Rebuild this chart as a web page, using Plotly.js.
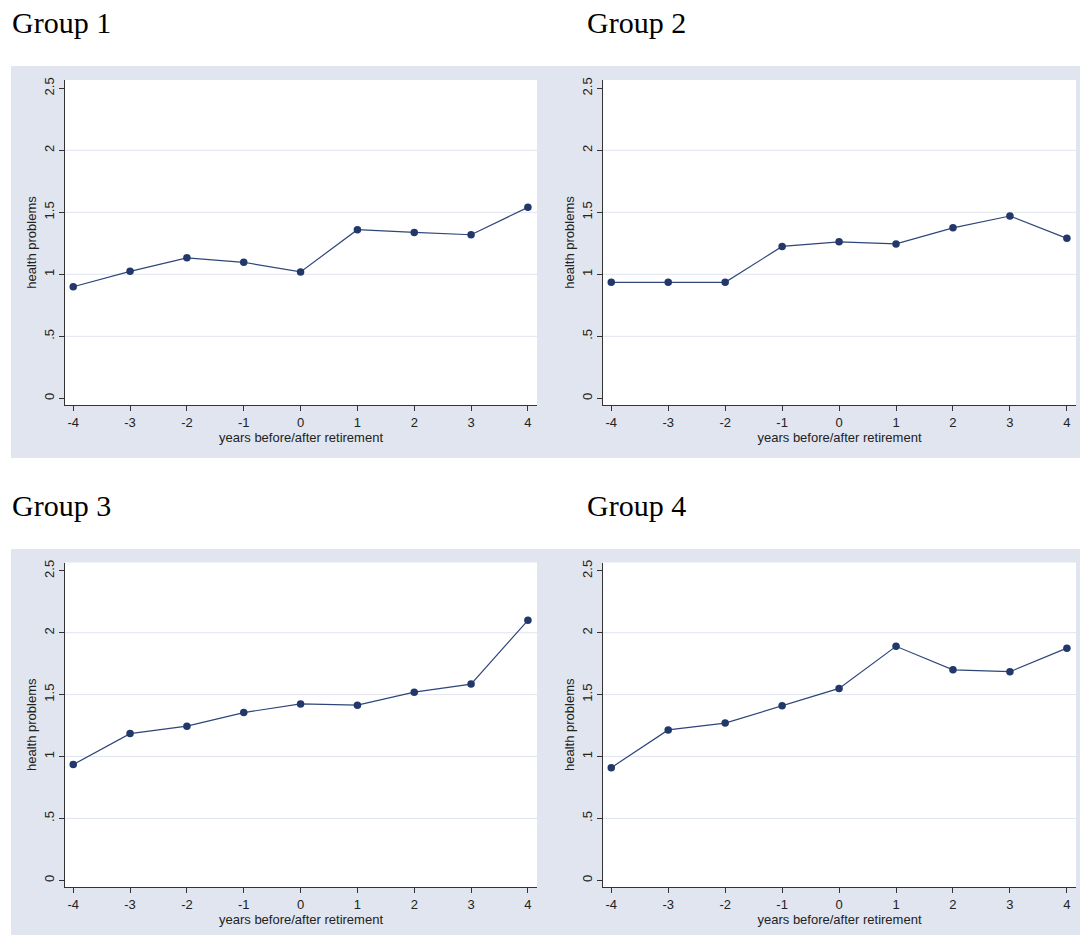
<!DOCTYPE html>
<html>
<head>
<meta charset="utf-8">
<script src="https://cdn.plot.ly/plotly-3.0.1.min.js"></script>
<style>html,body{margin:0;padding:0;background:#fff;}#chart{width:1080px;height:935px;}</style>
</head>
<body>
<div id="chart"></div>
<script>
// ---- data ----
const years = [-4, -3, -2, -1, 0, 1, 2, 3, 4];
const groupTitles = ["Group 1", "Group 2", "Group 3", "Group 4"];
const group1 = [0.90, 1.024, 1.133, 1.097, 1.019, 1.36, 1.338, 1.319, 1.54];
const group2 = [0.935, 0.935, 0.935, 1.225, 1.262, 1.245, 1.375, 1.47, 1.29];
const group3 = [0.935, 1.185, 1.245, 1.355, 1.425, 1.415, 1.52, 1.585, 2.10];
const group4 = [0.91, 1.215, 1.27, 1.41, 1.55, 1.89, 1.70, 1.685, 1.875];
const yTickVals = [0, 0.5, 1, 1.5, 2, 2.5];
const yTickText = ["0", ".5", "1", "1.5", "2", "2.5"];
const gridVals = [0.5, 1, 1.5, 2];
const xTitle = "years before/after retirement";
const yTitle = "health problems";

// ---- styling / layout ----
const W = 1080, H = 935;
const seriesList = [group1, group2, group3, group4];
const navy = "#22386a";
const lineCol = "#2f4678";
const bgCol = "#e0e5ef";
const gridCol = "#e0e4ee";
const axisCol = "#333333";
const sans = "Liberation Sans, Arial, sans-serif";
const serif = "Liberation Serif, Times New Roman, serif";
const fs = 13;

// pixel boxes of plot areas [x0, x1, yTop, yBottom]
const boxes = [
  [65, 537, 80, 405],
  [603, 1076, 80, 405],
  [65, 537, 562.5, 887],
  [603, 1076, 562.5, 887]
];
const titlePos = [[10, 22], [585, 22], [10, 505], [585, 505]];

const traces = [];
const layout = {
  width: W, height: H,
  margin: {l: 0, r: 0, t: 0, b: 0},
  paper_bgcolor: "#ffffff",
  plot_bgcolor: "#ffffff",
  showlegend: false,
  font: {family: sans, size: fs, color: "#222"},
  shapes: [
    {type: "rect", xref: "paper", yref: "paper", layer: "below",
     x0: 11 / W, x1: 1, y0: 1 - 458 / H, y1: 1 - 66 / H,
     fillcolor: bgCol, line: {width: 0}},
    {type: "rect", xref: "paper", yref: "paper", layer: "below",
     x0: 11 / W, x1: 1, y0: 0, y1: 1 - 549 / H,
     fillcolor: bgCol, line: {width: 0}}
  ],
  annotations: []
};

seriesList.forEach((vals, i) => {
  const n = i + 1;
  const xa = n === 1 ? "x" : "x" + n;
  const ya = n === 1 ? "y" : "y" + n;
  traces.push({
    type: "scatter", mode: "lines+markers",
    x: years, y: vals, xaxis: xa, yaxis: ya,
    line: {color: lineCol, width: 1.2},
    marker: {color: navy, size: 7.5, symbol: "circle"},
    hoverinfo: "x+y"
  });
  const b = boxes[i];
  const xKey = n === 1 ? "xaxis" : "xaxis" + n;
  const yKey = n === 1 ? "yaxis" : "yaxis" + n;
  layout[xKey] = {
    domain: [b[0] / W, b[1] / W],
    anchor: ya,
    range: [-4.145, 4.16],
    tickvals: years,
    ticktext: years.map(String),
    ticks: "outside", ticklen: 5, tickwidth: 1, tickcolor: axisCol,
    showline: true, linecolor: axisCol, linewidth: 1.3,
    showgrid: false, zeroline: false,
    tickfont: {family: sans, size: fs, color: "#222"},
    title: {text: xTitle, font: {family: sans, size: fs, color: "#222"}, standoff: 0},
    fixedrange: true
  };
  layout[yKey] = {
    domain: [1 - b[3] / H, 1 - b[2] / H],
    anchor: xa,
    range: [-0.054, 2.567],
    tickvals: yTickVals,
    ticktext: yTickText,
    tickangle: -90,
    ticks: "outside", ticklen: 5, tickwidth: 1, tickcolor: axisCol,
    showline: true, linecolor: axisCol, linewidth: 1.3,
    showgrid: false, zeroline: false,
    tickfont: {family: sans, size: fs, color: "#222"},
    title: {text: yTitle, font: {family: sans, size: fs, color: "#222"}, standoff: 2},
    fixedrange: true
  };
  // white plot region on top of the grey graph region
  layout.shapes.push({
    type: "rect", xref: "paper", yref: "paper", layer: "below",
    x0: b[0] / W, x1: b[1] / W, y0: 1 - b[3] / H, y1: 1 - b[2] / H,
    fillcolor: "#ffffff", line: {width: 0}
  });
  gridVals.forEach(g => {
    layout.shapes.push({
      type: "line", xref: xa + " domain", yref: ya, layer: "below",
      x0: 0, x1: 1, y0: g, y1: g,
      line: {color: gridCol, width: 1}
    });
  });
  layout.annotations.push({
    text: groupTitles[i], xref: "paper", yref: "paper",
    x: titlePos[i][0] / W, y: 1 - titlePos[i][1] / H,
    xanchor: "left", yanchor: "middle", showarrow: false,
    font: {family: serif, size: 30, color: "#000"}
  });
});

Plotly.newPlot("chart", traces, layout, {displayModeBar: false, staticPlot: true});
</script>
</body>
</html>
